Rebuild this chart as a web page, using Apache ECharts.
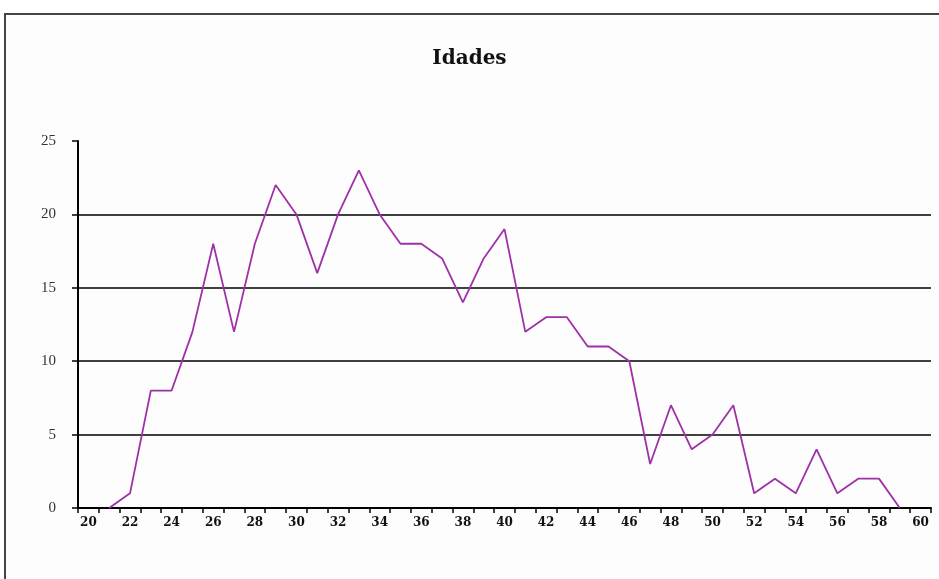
<!DOCTYPE html>
<html>
<head>
<meta charset="utf-8">
<script src="https://cdn.jsdelivr.net/npm/echarts@6/dist/echarts.min.js"></script>
<style>
html,body{margin:0;padding:0;background:#fff;}
#c{width:939px;height:579px;}
</style>
</head>
<body>
<div id="c"></div>
<script>
const titleText = 'Idades';
const ages = [];
for (let a = 20; a <= 60; a++) ages.push(String(a));
const counts = [null, 0, 1, 8, 8, 12, 18, 12, 18, 22, 20, 16, 20, 23, 20, 18, 18, 17, 14, 17, 19,
                12, 13, 13, 11, 11, 10, 3, 7, 4, 5, 7, 1, 2, 1, 4, 1, 2, 2, 0, null];
const yTicks = [0, 5, 10, 15, 20, 25];

const chart = echarts.init(document.getElementById('c'), null, {renderer: 'canvas'});
chart.setOption({
  backgroundColor: '#ffffff',
  animation: false,
  graphic: [{
    type: 'rect',
    shape: {x: 5, y: 14, width: 1000, height: 1000},
    style: {fill: '#fdfdfd', stroke: '#444', lineWidth: 2},
    z: -10
  }],
  title: {
    text: titleText,
    left: 'center',
    top: 44,
    textStyle: {fontFamily: 'DejaVu Serif', fontWeight: 'bold', fontSize: 20, color: '#111'}
  },
  grid: {left: 78, right: 8, top: 141, bottom: 71, containLabel: false},
  xAxis: {
    type: 'category',
    data: ages,
    boundaryGap: true,
    axisLine: {lineStyle: {color: '#000', width: 2}},
    axisTick: {show: true, interval: 0, length: 5, lineStyle: {color: '#000', width: 1.5}},
    axisLabel: {interval: 1, margin: 9, color: '#111', fontFamily: 'DejaVu Serif', fontWeight: 'bold', fontSize: 12},
    splitLine: {show: false}
  },
  yAxis: {
    type: 'value',
    min: yTicks[0],
    max: yTicks[yTicks.length - 1],
    interval: 5,
    axisLine: {show: true, lineStyle: {color: '#000', width: 2}},
    axisTick: {show: true, length: 6, lineStyle: {color: '#000', width: 1.5}},
    axisLabel: {margin: 22, color: '#333', fontFamily: 'Liberation Serif', fontSize: 15},
    splitLine: {show: true, lineStyle: {color: ['#000', '#000', '#000', '#000', '#000', 'rgba(0,0,0,0)'], width: 1.5}}
  },
  series: [{
    type: 'line',
    data: counts,
    showSymbol: false,
    symbol: 'none',
    connectNulls: false,
    lineStyle: {color: '#a030a8', width: 1.8},
    z: 5
  }]
});
</script>
</body>
</html>
